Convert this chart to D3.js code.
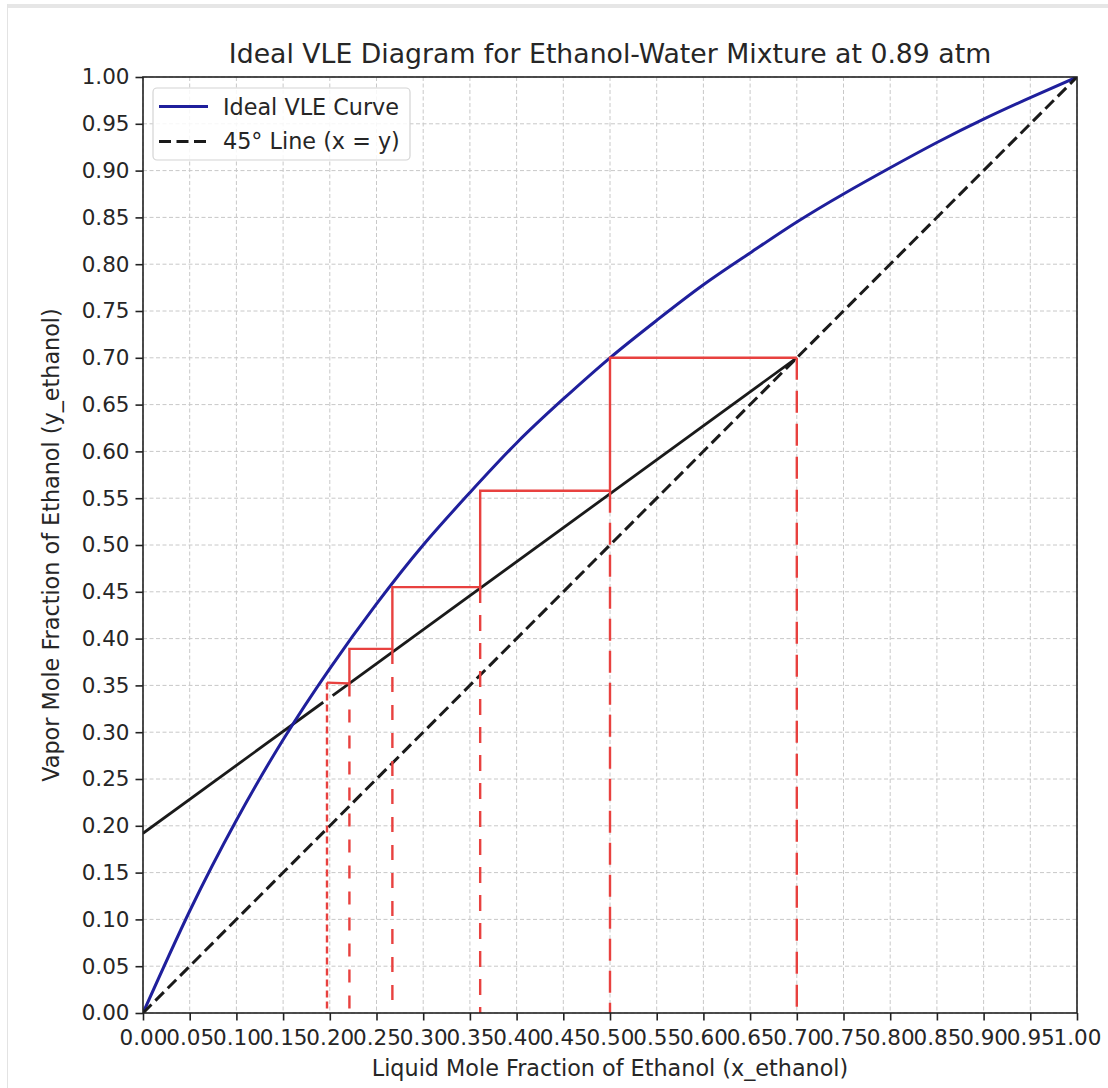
<!DOCTYPE html>
<html>
<head>
<meta charset="utf-8">
<script src="https://cdn.jsdelivr.net/npm/d3@7"></script>
<style>
  html, body { margin: 0; padding: 0; background: #ffffff; }
  svg { display: block; }
  text { font-family: "DejaVu Sans", sans-serif; fill: #262626; }
</style>
</head>
<body>
<svg id="chart" width="1108" height="1088"></svg>
<script>
// ---------- data ----------
const xTicks = [0.00,0.05,0.10,0.15,0.20,0.25,0.30,0.35,0.40,0.45,0.50,0.55,0.60,0.65,0.70,0.75,0.80,0.85,0.90,0.95,1.00];
const yTicks = [0.00,0.05,0.10,0.15,0.20,0.25,0.30,0.35,0.40,0.45,0.50,0.55,0.60,0.65,0.70,0.75,0.80,0.85,0.90,0.95,1.00];

// Ideal VLE curve
const vleX = [0.00,0.05,0.10,0.15,0.20,0.25,0.30,0.35,0.40,0.45,0.50,0.55,0.60,0.65,0.70,0.75,0.80,0.85,0.90,0.95,1.00];
const vleY = [0.000,0.109,0.206,0.292,0.368,0.437,0.500,0.556,0.609,0.656,0.700,0.740,0.778,0.812,0.845,0.875,0.903,0.930,0.955,0.978,1.000];

// 45 degree line
const diagX = [0, 1];
const diagY = [0, 1];

// operating line (drawn in two pieces, small gap near x = 0.2)
const opSeg1X = [0.000, 0.193];
const opSeg1Y = [0.192, 0.332];
const opSeg2X = [0.203, 0.700];
const opSeg2Y = [0.339, 0.700];

// McCabe-Thiele stair steps
const stepX = [0.70, 0.50, 0.50, 0.361, 0.361, 0.267, 0.267, 0.221, 0.221, 0.197];
const stepY = [0.70, 0.70, 0.558, 0.558, 0.455, 0.455, 0.389, 0.389, 0.352, 0.353];

// dashed drop lines to the x axis
const dropX   = [0.70, 0.50, 0.361, 0.267, 0.221, 0.197];
const dropTop = [0.70, 0.558, 0.455, 0.389, 0.352, 0.353];

const legendLabels = ["Ideal VLE Curve", "45\u00B0 Line (x = y)"];
const titleText = "Ideal VLE Diagram for Ethanol-Water Mixture at 0.89 atm";
const xLabel = "Liquid Mole Fraction of Ethanol (x_ethanol)";
const yLabel = "Vapor Mole Fraction of Ethanol (y_ethanol)";

// ---------- styles / layout ----------
const W = 1108, H = 1088;
const M = { left: 143, right: 1077, top: 77, bottom: 1013 };
const blue = "#1f1f9c";
const red = "#e8413f";
const dark = "#1a1a1a";
const dropDash = ["22,11", "22,10", "16,12", "15,13", "13,13", "7,4"];

const svg = d3.select("#chart");

// outer frame
svg.append("rect").attr("x", 7).attr("y", 4).attr("width", W - 7).attr("height", 4).attr("fill", "#e6e6e6");
svg.append("line").attr("x1", 7.5).attr("x2", 7.5).attr("y1", 4).attr("y2", H).attr("stroke", "#e3e3e3").attr("stroke-width", 1);

const x = d3.scaleLinear().domain([0, 1]).range([M.left, M.right]);
const y = d3.scaleLinear().domain([0, 1]).range([M.bottom, M.top]);

svg.append("defs").append("clipPath").attr("id", "clip")
  .append("rect").attr("x", M.left).attr("y", M.top)
  .attr("width", M.right - M.left).attr("height", M.bottom - M.top);

// grid
const grid = svg.append("g");
grid.selectAll("line.gx").data(xTicks).join("line")
  .attr("x1", d => x(d)).attr("x2", d => x(d))
  .attr("y1", M.top).attr("y2", M.bottom)
  .attr("stroke", "#c8c8c8").attr("stroke-width", 1).attr("stroke-dasharray", "4,2.5");
grid.selectAll("line.gy").data(yTicks).join("line")
  .attr("y1", d => y(d)).attr("y2", d => y(d))
  .attr("x1", M.left).attr("x2", M.right)
  .attr("stroke", "#c8c8c8").attr("stroke-width", 1).attr("stroke-dasharray", "4,2.5");

const plot = svg.append("g").attr("clip-path", "url(#clip)");
const line = d3.line().x(d => x(d[0])).y(d => y(d[1]));

// operating line
[[opSeg1X, opSeg1Y], [opSeg2X, opSeg2Y]].forEach(([sx, sy]) => {
  plot.append("path").datum(d3.zip(sx, sy)).attr("d", line)
    .attr("fill", "none").attr("stroke", dark).attr("stroke-width", 2.8);
});

// VLE curve
plot.append("path").datum(d3.zip(vleX, vleY))
  .attr("d", d3.line().x(d => x(d[0])).y(d => y(d[1])).curve(d3.curveNatural))
  .attr("fill", "none").attr("stroke", blue).attr("stroke-width", 3);

// 45 deg line
plot.append("path").datum(d3.zip(diagX, diagY)).attr("d", line)
  .attr("fill", "none").attr("stroke", dark).attr("stroke-width", 3)
  .attr("stroke-dasharray", "12,5.5");

// drop lines
plot.selectAll("line.drop").data(d3.zip(dropX, dropTop, dropDash)).join("line")
  .attr("x1", d => x(d[0])).attr("x2", d => x(d[0]))
  .attr("y1", d => y(d[1])).attr("y2", y(0))
  .attr("stroke", red).attr("stroke-width", 2.4)
  .attr("stroke-dasharray", d => d[2]);

// stairs
plot.append("path").datum(d3.zip(stepX, stepY)).attr("d", line)
  .attr("fill", "none").attr("stroke", red).attr("stroke-width", 2.4);

// axes
const fmt = d3.format(".2f");
const xAxis = svg.append("g").attr("transform", `translate(0,${M.bottom})`)
  .call(d3.axisBottom(x).tickValues(xTicks).tickFormat(fmt).tickSize(7.5).tickPadding(9));
const yAxis = svg.append("g").attr("transform", `translate(${M.left},0)`)
  .call(d3.axisLeft(y).tickValues(yTicks).tickFormat(fmt).tickSize(7.5).tickPadding(6));
[xAxis, yAxis].forEach(a => {
  a.select(".domain").remove();
  a.selectAll(".tick line").attr("stroke", "#222").attr("stroke-width", 1.6);
  a.selectAll(".tick text").attr("font-size", 21.5).attr("font-family", "DejaVu Sans").attr("fill", "#262626");
});

// spines
svg.append("rect").attr("x", M.left).attr("y", M.top)
  .attr("width", M.right - M.left).attr("height", M.bottom - M.top)
  .attr("fill", "none").attr("stroke", "#222").attr("stroke-width", 1.6);

// legend
const lg = svg.append("g");
lg.append("rect").attr("x", 153).attr("y", 88).attr("width", 257).attr("height", 72).attr("rx", 4)
  .attr("fill", "white").attr("fill-opacity", 0.85).attr("stroke", "#d4d4d4").attr("stroke-width", 1.2);
lg.append("line").attr("x1", 159).attr("x2", 208).attr("y1", 106.5).attr("y2", 106.5)
  .attr("stroke", blue).attr("stroke-width", 3);
lg.append("line").attr("x1", 159).attr("x2", 208).attr("y1", 141.5).attr("y2", 141.5)
  .attr("stroke", dark).attr("stroke-width", 3).attr("stroke-dasharray", "12,5.5");
lg.selectAll("text").data(legendLabels).join("text")
  .attr("x", 223).attr("y", (d, i) => 114.5 + i * 34.5)
  .attr("font-size", 22.3).text(d => d);

// title & labels
svg.append("text").attr("x", (M.left + M.right) / 2).attr("y", 63)
  .attr("text-anchor", "middle").attr("font-size", 26.7).text(titleText);
svg.append("text").attr("x", (M.left + M.right) / 2).attr("y", 1076)
  .attr("text-anchor", "middle").attr("font-size", 22.3).text(xLabel);
svg.append("text").attr("transform", `translate(59,${(M.top + M.bottom) / 2}) rotate(-90)`)
  .attr("text-anchor", "middle").attr("font-size", 22.3).text(yLabel);
</script>
</body>
</html>
